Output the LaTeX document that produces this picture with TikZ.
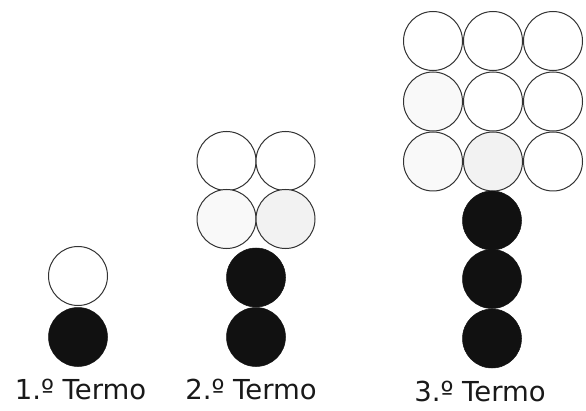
\documentclass[tikz,border=0pt]{standalone}
\usepackage{fontspec}
\setmainfont{DejaVu Sans}
\definecolor{ringgray}{HTML}{333333}
\definecolor{pale}{HTML}{F9F9F9}
\definecolor{paler}{HTML}{F2F2F2}
\definecolor{dark}{HTML}{111111}
\begin{document}
\begin{tikzpicture}[x=1pt,y=1pt,
  ball/.style={circle,minimum size=59pt,inner sep=0pt,draw=ringgray,line width=1pt,fill=white},
  ballA/.style={ball,fill=pale},
  ballB/.style={ball,fill=paler},
  blackball/.style={circle,minimum size=59pt,inner sep=0pt,fill=dark,draw=dark,line width=0.5pt},
  lab/.style={anchor=base,font=\fontsize{27.5}{32}\selectfont,text=black!90}]
\useasboundingbox (0,0) rectangle (586,410);
% Term 1
\node[ball] (t1w) at (78,134) {};
\node[blackball] (t1b1) at (78,73) {};
\node[lab] (l1) at (80.5,11) {1.º Termo};
% Term 2
\node[ball] (t2w11) at (226.5,249) {};
\node[ball] (t2w12) at (285.5,249) {};
\node[ballA] (t2w21) at (226.5,191) {};
\node[ballB] (t2w22) at (285.5,191) {};
\node[blackball] (t2b1) at (256,132.5) {};
\node[blackball] (t2b2) at (256,73) {};
\node[lab] (l2) at (251,11) {2.º Termo};
% Term 3
\node[ball] (t3w11) at (433,369) {};
\node[ball] (t3w12) at (493,369) {};
\node[ball] (t3w13) at (553,369) {};
\node[ballA] (t3w21) at (433,308.5) {};
\node[ball] (t3w22) at (493,308.5) {};
\node[ball] (t3w23) at (553,308.5) {};
\node[ballA] (t3w31) at (433,248.5) {};
\node[ballB] (t3w32) at (493,248.5) {};
\node[ball] (t3w33) at (553,248.5) {};
\node[blackball] (t3b1) at (492,189.5) {};
\node[blackball] (t3b2) at (492,131) {};
\node[blackball] (t3b3) at (492,71.5) {};
\node[lab] (l3) at (480,9) {3.º Termo};
\end{tikzpicture}
\end{document}
